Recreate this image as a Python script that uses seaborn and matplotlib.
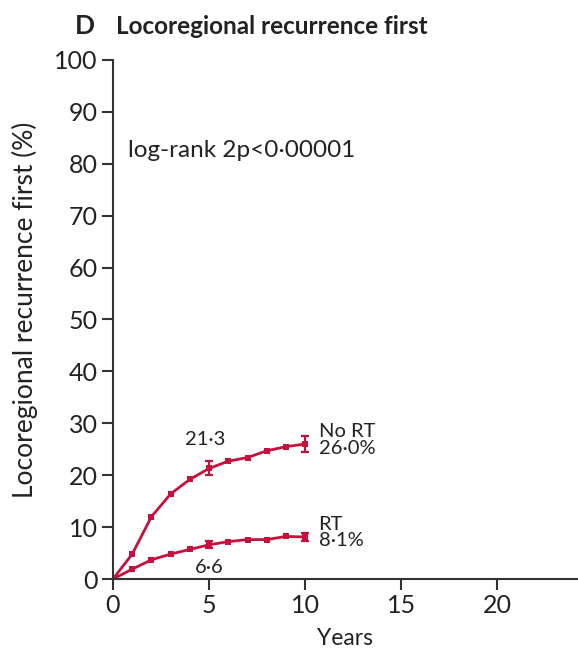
import matplotlib
matplotlib.use("Agg")
import matplotlib.pyplot as plt
import seaborn as sns
import pandas as pd

years = [0, 1, 2, 3, 4, 5, 6, 7, 8, 9, 10]
no_rt = [0.0, 4.8, 12.0, 16.4, 19.2, 21.3, 22.7, 23.4, 24.7, 25.5, 26.0]
rt = [0.0, 1.9, 3.7, 4.8, 5.7, 6.6, 7.2, 7.6, 7.6, 8.2, 8.1]

err_years = [5, 10]
no_rt_err = [1.35, 1.5]
rt_err = [0.7, 0.85]

red = "#c8103c"
grey = "#333333"

df = pd.DataFrame({
    "Years": years * 2,
    "pct": no_rt + rt,
    "group": ["No RT"] * len(years) + ["RT"] * len(years),
})

sns.set_style("ticks")
plt.rcParams["font.family"] = ["Lato", "DejaVu Sans"]

fig = plt.figure(figsize=(5.78, 6.57), dpi=100)
ax = fig.add_axes([0.1955, 0.1187, 0.8045, 0.79])

sns.lineplot(data=df, x="Years", y="pct", units="group", estimator=None,
             color=red, lw=2, marker="s", markersize=4, markeredgewidth=0, ax=ax)

for vals, errs in [(no_rt, no_rt_err), (rt, rt_err)]:
    ys = [vals[years.index(y)] for y in err_years]
    ax.errorbar(err_years, ys, yerr=errs, fmt="none", ecolor=red,
                elinewidth=1.6, capsize=3, capthick=1.6)

ax.set_xlim(0, 24.2)
ax.set_ylim(0, 100)
ax.set_xticks([0, 5, 10, 15, 20])
ax.set_yticks(range(0, 101, 10))
ax.tick_params(length=8, width=1.5, color=grey, labelsize=18, labelcolor="#222222", pad=3)
for s in ["left", "bottom"]:
    ax.spines[s].set_linewidth(1.5)
    ax.spines[s].set_color(grey)
sns.despine(ax=ax)

ax.set_xlabel("Years", fontsize=16.5, color="#222222", labelpad=8)
ax.set_ylabel("Locoregional recurrence first (%)", fontsize=19, color="#222222")
ax.yaxis.set_label_coords(-0.161, 0.518)

ax.text(0.8, 82.6, "log-rank 2p<0·00001", fontsize=17.5, va="center", color="#222222")
ax.text(4.8, 26.8, "21·3", fontsize=14.5, ha="center", va="center", color="#222222")
ax.text(5.0, 2.3, "6·6", fontsize=14.5, ha="center", va="center", color="#222222")
ax.text(10.7, 26.8, "No RT\n26·0%", fontsize=14.5, va="center", color="#222222", linespacing=0.95)
ax.text(10.7, 9.0, "RT\n8·1%", fontsize=14.5, va="center", color="#222222", linespacing=0.95)

fig.text(0.13, 0.96, "D", fontsize=19, fontweight="bold", color="#222222", va="center")
fig.text(0.2, 0.96, "Locoregional recurrence first", fontsize=17.5, fontweight="bold",
         color="#222222", va="center")

fig.savefig("out.png", dpi=100)
